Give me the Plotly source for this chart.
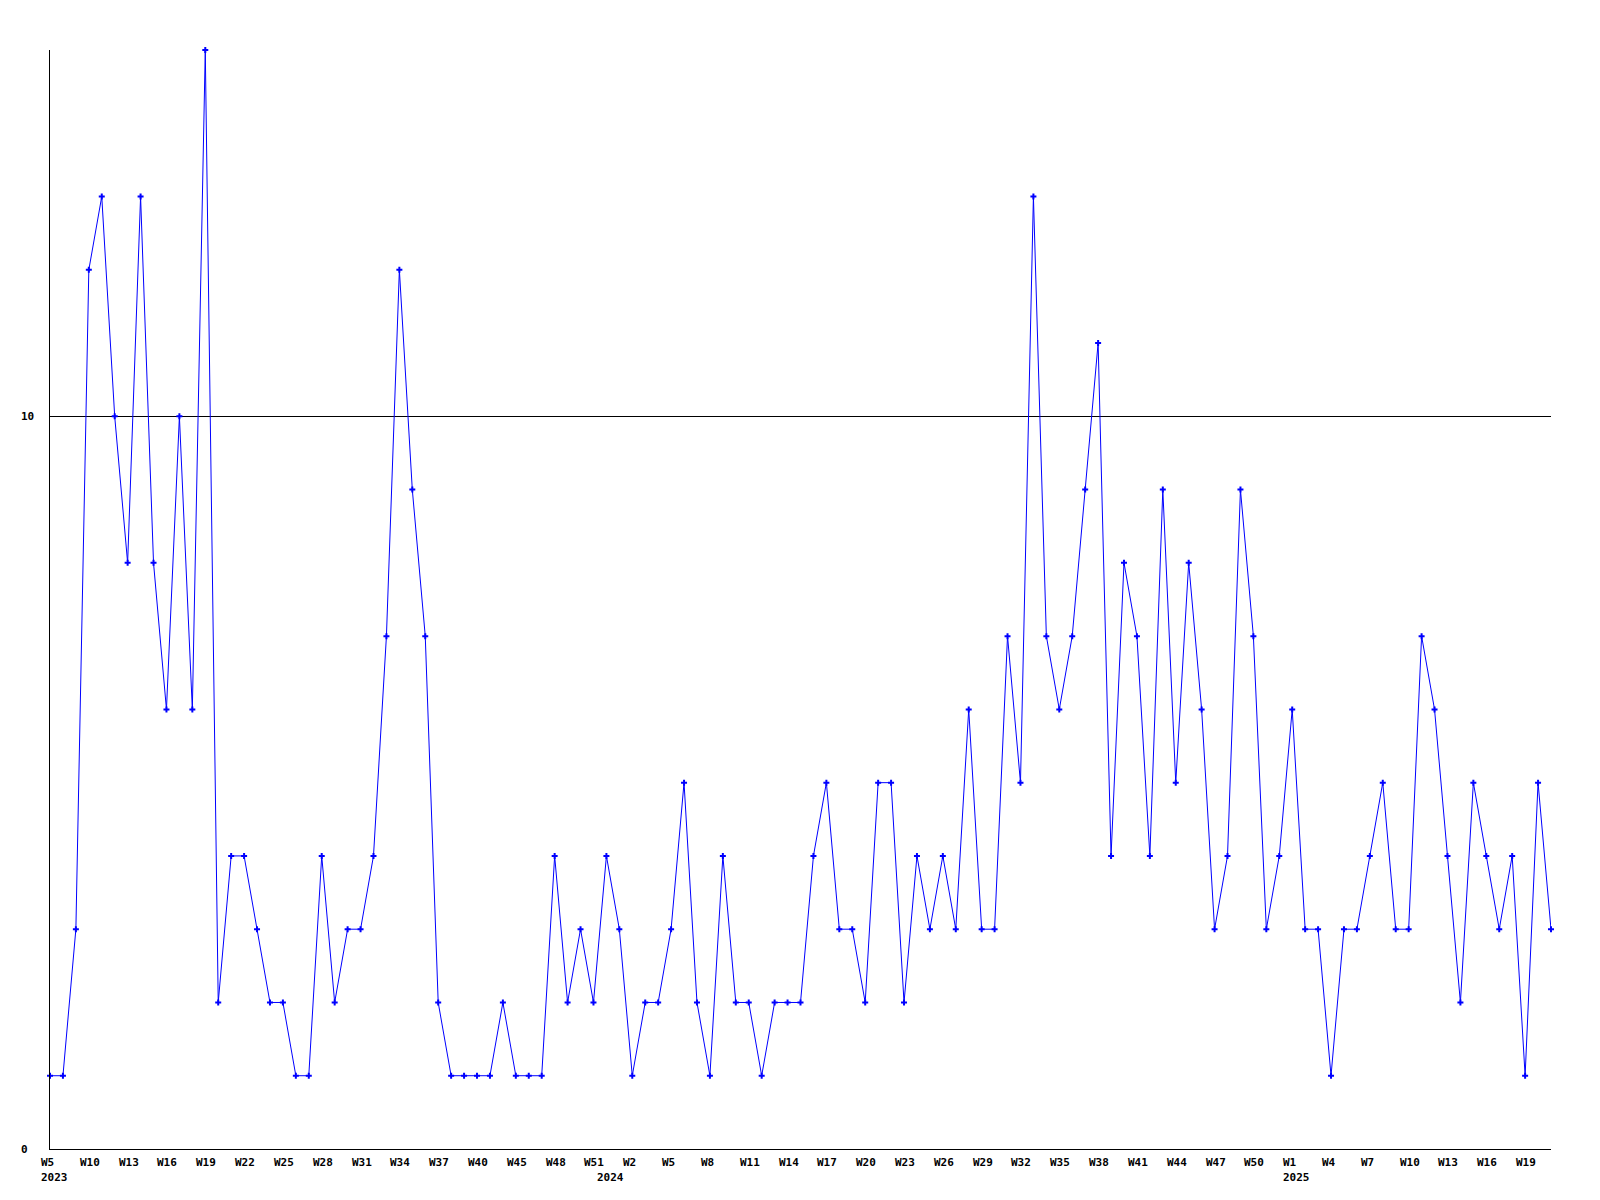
import plotly.graph_objects as go

# Weekly values (117 consecutive points, categorical x positions)
values = [
    1, 1, 3, 12, 13, 10, 8, 13, 8, 6,
    10, 6, 15, 2, 4, 4, 3, 2, 2, 1,
    1, 4, 2, 3, 3, 4, 7, 12, 9, 7,
    2, 1, 1, 1, 1, 2, 1, 1, 1, 4,
    2, 3, 2, 4, 3, 1, 2, 2, 3, 5,
    2, 1, 4, 2, 2, 1, 2, 2, 2, 4,
    5, 3, 3, 2, 5, 5, 2, 4, 3, 4,
    3, 6, 3, 3, 7, 5, 13, 7, 6, 7,
    9, 11, 4, 8, 7, 4, 9, 5, 8, 6,
    3, 4, 9, 7, 3, 4, 6, 3, 3, 1,
    3, 3, 4, 5, 3, 3, 7, 6, 4, 2,
    5, 4, 3, 4, 1, 5, 3,
]

# Week tick labels, one every 3rd point
week_labels = [
    "W5", "W10", "W13", "W16", "W19", "W22", "W25", "W28", "W31", "W34",
    "W37", "W40", "W45", "W48", "W51",
    "W2", "W5", "W8", "W11", "W14", "W17", "W20", "W23", "W26", "W29",
    "W32", "W35", "W38", "W41", "W44", "W47", "W50",
    "W1", "W4", "W7", "W10", "W13", "W16", "W19",
]
label_step = 3

# Year labels and the point index where each appears
years = ["2023", "2024", "2025"]
year_index = [0, 43, 96]

# Y-axis labels
y_ticks = [0, 10]

x = list(range(len(values)))

BLUE = "#0000ff"
FONT = dict(family="DejaVu Sans Mono", size=11, color="black", weight="bold")

fig = go.Figure()
fig.add_trace(go.Scatter(
    x=x, y=values, mode="lines+markers",
    line=dict(color=BLUE, width=1),
    marker=dict(symbol="cross", size=5, color=BLUE, line=dict(width=0)),
    cliponaxis=False,
    hoverinfo="skip",
))

annotations = []
for i, lab in enumerate(week_labels):
    annotations.append(dict(
        x=i * label_step, y=0, xref="x", yref="paper",
        text=lab, showarrow=False, xanchor="left", yanchor="middle",
        xshift=-11, yshift=-13, font=FONT,
    ))
for yr, idx in zip(years, year_index):
    annotations.append(dict(
        x=idx, y=0, xref="x", yref="paper",
        text=yr, showarrow=False, xanchor="left", yanchor="middle",
        xshift=-11, yshift=-28, font=FONT,
    ))
for yv in y_ticks:
    annotations.append(dict(
        x=-31 / 1501, y=yv, xref="paper", yref="y",
        text=str(yv), showarrow=False, xanchor="left", yanchor="middle",
        font=FONT,
    ))

# page body has an 8px margin, so the figure is shrunk by 8px on each axis
fig.update_layout(
    width=1592, height=1192,
    margin=dict(l=42, r=49, t=42, b=51),
    paper_bgcolor="white", plot_bgcolor="white",
    showlegend=False,
    annotations=annotations,
    xaxis=dict(
        range=[0, len(values) - 1], showgrid=False, zeroline=False,
        showline=True, linecolor="black", linewidth=1,
        showticklabels=False, ticks="",
    ),
    yaxis=dict(
        range=[0, 15], tickvals=[10], showgrid=True, gridcolor="black",
        gridwidth=1, zeroline=False, showline=True, linecolor="black",
        linewidth=1, showticklabels=False, ticks="",
    ),
)

fig.write_html("out.html")
